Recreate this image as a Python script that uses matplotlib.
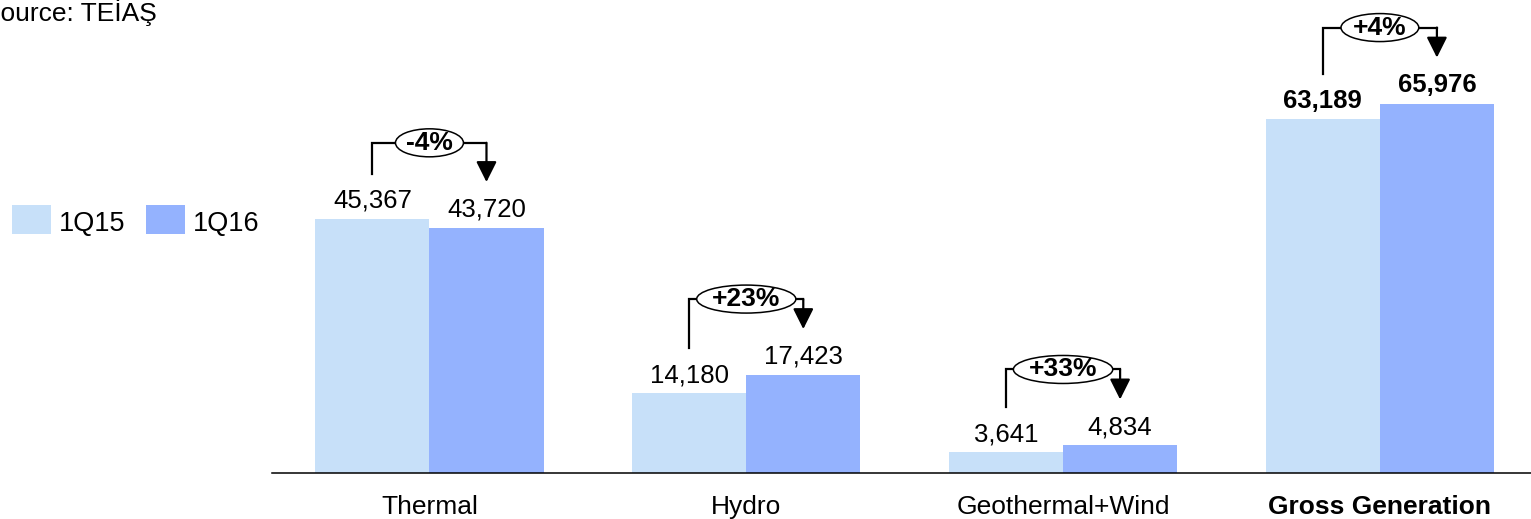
import matplotlib
matplotlib.use("Agg")
import matplotlib.pyplot as plt
from matplotlib.patches import Ellipse, Rectangle

plt.rcParams['font.family'] = ['Liberation Sans', 'DejaVu Sans']

categories = ["Thermal", "Hydro", "Geothermal+Wind", "Gross Generation"]
q15 = [45367, 14180, 3641, 63189]
q16 = [43720, 17423, 4834, 65976]
changes = ["-4%", "+23%", "+33%", "+4%"]
series_names = ["1Q15", "1Q16"]
bold_category = "Gross Generation"

c15 = "#C7E0F9"
c16 = "#94B2FE"

W, H, DPI = 1531, 519, 100
fig = plt.figure(figsize=(W / DPI, H / DPI), dpi=DPI)

ax_left_px, ax_bottom_px = 272, 46.5
ax = fig.add_axes([ax_left_px / W, ax_bottom_px / H, 1 - ax_left_px / W, 1 - ax_bottom_px / H])
ymax = 84500
ax.set_ylim(0, ymax)
ax.set_xlim(-0.497, 3.477)

# data units per pixel along each axis
upp_y = ymax / (H - ax_bottom_px)
upp_x = (3.477 + 0.497) / (W - ax_left_px)

bw = 0.36
xs = list(range(len(categories)))
ax.bar([x - bw / 2 for x in xs], q15, width=bw, color=c15, zorder=2)
ax.bar([x + bw / 2 for x in xs], q16, width=bw, color=c16, zorder=2)

for s in ["top", "right", "left"]:
    ax.spines[s].set_visible(False)
ax.spines["bottom"].set_linewidth(1.1)
ax.set_yticks([])
ax.set_xticks(xs)
ax.set_xticklabels(categories, fontsize=19)
ax.tick_params(axis="x", length=0, pad=16)
for lbl in ax.get_xticklabels():
    if lbl.get_text() == bold_category:
        lbl.set_fontweight("bold")

# value labels
for x, a, b, cat in zip(xs, q15, q16, categories):
    fw = "bold" if cat == bold_category else "normal"
    for xx, v in ((x - bw / 2, a), (x + bw / 2, b)):
        ax.annotate(f"{v:,}", xy=(xx, v), xytext=(0, 8), textcoords="offset points",
                    ha="center", va="baseline", fontsize=18.5, fontweight=fw)

# change brackets with arrows
fig.canvas.draw()
renderer = fig.canvas.get_renderer()
for x, a, b, ch in zip(xs, q15, q16, changes):
    xl, xr = x - bw / 2, x + bw / 2
    line_y = max(a, b) + 76 * upp_y
    left_bottom = a + 45 * upp_y
    tip = b + 46 * upp_y
    ax.plot([xl, xl, xr, xr], [left_bottom, line_y, line_y, line_y],
            color="black", lw=1.6, solid_joinstyle="miter", zorder=3)
    ax.annotate("", xy=(xr, tip), xytext=(xr, line_y),
                arrowprops=dict(arrowstyle="-|>,head_length=1.0,head_width=0.5",
                                lw=1.6, color="black", shrinkA=0, shrinkB=0,
                                mutation_scale=12.5), zorder=3)
    t = ax.text(x, line_y, ch, ha="center", va="center", fontsize=19,
                fontweight="bold", zorder=5)
    tw = t.get_window_extent(renderer).width
    ax.add_patch(Ellipse((x, line_y), width=tw * 1.45 * upp_x, height=28 * upp_y,
                         facecolor="white", edgecolor="black", lw=1.1, zorder=4))

# legend
for (x0, name, col) in ((12, series_names[0], c15), (146, series_names[1], c16)):
    fig.add_artist(Rectangle((x0 / W, (H - 234) / H), 39 / W, 29 / H,
                             transform=fig.transFigure, facecolor=col, edgecolor="none"))
    fig.text((x0 + 47) / W, (H - 231.5) / H, name, fontsize=19.5, va="baseline", ha="left")

fig.text(-17 / W, (H - 21) / H, "Source: TEİAŞ", fontsize=19, va="baseline", ha="left")

fig.savefig("out.png", dpi=DPI)
